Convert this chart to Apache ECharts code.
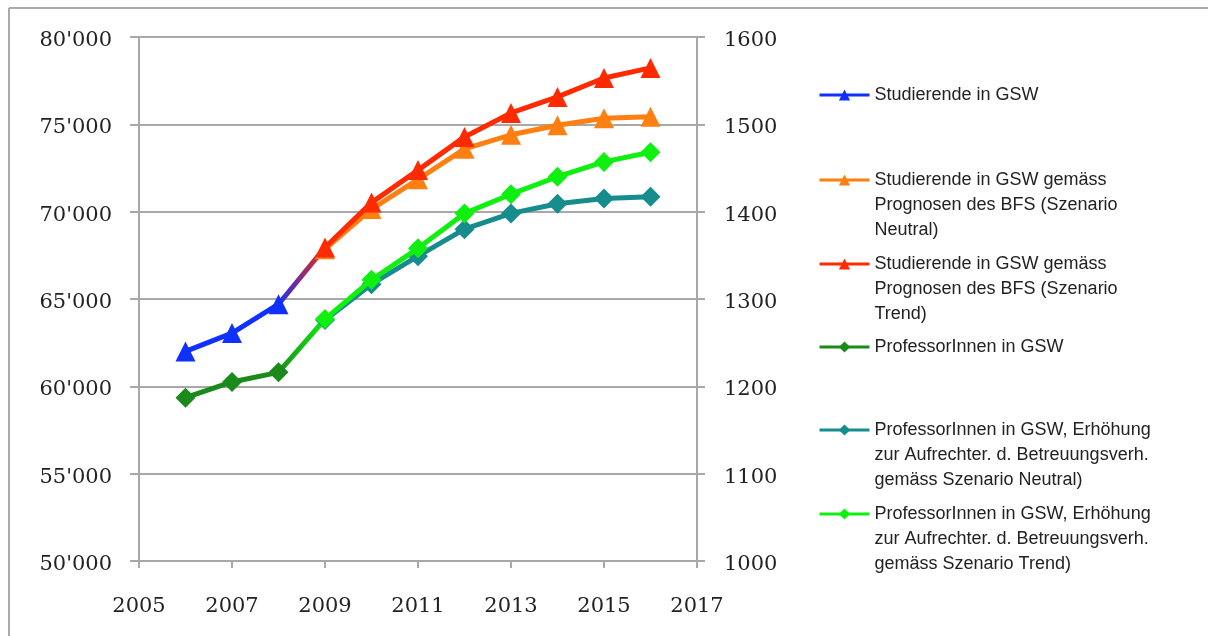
<!DOCTYPE html>
<html>
<head>
<meta charset="utf-8">
<script src="https://cdn.jsdelivr.net/npm/echarts@6/dist/echarts.min.js"></script>
<style>
  html, body { margin: 0; padding: 0; background: #fff; }
  #chart { width: 1208px; height: 636px; }
</style>
</head>
<body>
<div id="chart"></div>
<script>
// Jahre und Werte der einzelnen Reihen
const jahreStud = [2006, 2007, 2008];
const studierende = [62000, 63050, 64700];

const jahrePrognose = [2009, 2010, 2011, 2012, 2013, 2014, 2015, 2016];
const studNeutral = [67850, 70150, 71850, 73600, 74400, 74950, 75350, 75430];
const studTrend = [67950, 70520, 72380, 74280, 75650, 76570, 77650, 78230];

const jahreProf = [2006, 2007, 2008];
const professoren = [1187, 1205, 1216];
const profNeutral = [1276, 1317, 1349, 1380, 1398, 1409, 1415, 1417];
const profTrend = [1277, 1322, 1358, 1398, 1420, 1440, 1457, 1468];

const xTicks = { min: 2005, max: 2017, step: 2 };
const yLinks = { min: 50000, max: 80000, step: 5000 };
const yRechts = { min: 1000, max: 1600, step: 100 };

const namen = [
  'Studierende in GSW',
  'Studierende in GSW gemäss\nPrognosen des BFS (Szenario\nNeutral)',
  'Studierende in GSW gemäss\nPrognosen des BFS (Szenario\nTrend)',
  'ProfessorInnen in GSW',
  'ProfessorInnen in GSW, Erhöhung\nzur Aufrechter. d. Betreuungsverh.\ngemäss Szenario Neutral)',
  'ProfessorInnen in GSW, Erhöhung\nzur Aufrechter. d. Betreuungsverh.\ngemäss Szenario Trend)'
];
const farben = ['#1030ff', '#ff7f10', '#ff2a00', '#1a8a1a', '#168c8c', '#10f010'];

const paare = (xs, ys) => xs.map((x, i) => [x, ys[i]]);

const chart = echarts.init(document.getElementById('chart'), null, { renderer: 'canvas' });

const achsenGrau = '#a8a8a8';
const achsenSchrift = { fontFamily: 'DejaVu Serif', fontSize: 21, color: '#222' };
// Y-Beschriftungen etwas unterhalb der Gitterlinie
const yRich = { v: { fontFamily: 'DejaVu Serif', fontSize: 21, color: '#222', padding: [7, 0, 0, 0] } };

function linie(name, idx, daten, symbol, size, yAxisIndex) {
  return {
    name: name, type: 'line', yAxisIndex: yAxisIndex, data: daten,
    symbol: symbol, symbolSize: size,
    itemStyle: { color: farben[idx] },
    lineStyle: { color: farben[idx], width: 5 },
    z: 3 + idx, animation: false
  };
}

function verbindung(von, bis, farbeA, farbeB, yAxisIndex) {
  return {
    type: 'line', yAxisIndex: yAxisIndex, data: [von, bis], symbol: 'none', silent: true,
    lineStyle: {
      width: 5,
      color: new echarts.graphic.LinearGradient(0, 0, 1, 0, [
        { offset: 0, color: farbeA }, { offset: 1, color: farbeB }
      ])
    },
    z: 2, animation: false
  };
}

// Legende: eine Komponente pro Eintrag; vorangestellte Leerzeilen
// setzen das Symbol auf die Höhe der ersten Textzeile
const legendY = [93, 178, 262, 345, 428, 512];
const zeilenHoehe = 25;
const legenden = namen.map((n, i) => {
  const zeilen = n.split('\n').length;
  const leer = '\n'.repeat(zeilen - 1);
  const boxHoehe = (2 * zeilen - 1) * zeilenHoehe;
  return {
    data: [n], left: 818, top: legendY[i] + 2 - boxHoehe / 2, padding: 0,
    orient: 'vertical', itemWidth: 50, itemHeight: 14, itemGap: 0,
    selectedMode: false,
    formatter: name => leer + name,
    lineStyle: { width: 3 },
    textStyle: {
      fontFamily: 'Liberation Sans', fontSize: 18, color: '#222',
      lineHeight: zeilenHoehe
    }
  };
});

const option = {
  backgroundColor: '#fff',
  animation: false,
  grid: { left: 139, right: 511, top: 37, bottom: 75, containLabel: false },
  legend: legenden,
  xAxis: {
    type: 'value', min: xTicks.min, max: xTicks.max, interval: xTicks.step,
    axisLine: { show: true, lineStyle: { color: achsenGrau, width: 2 } },
    axisTick: { show: true, length: 7, lineStyle: { color: achsenGrau, width: 2 } },
    axisLabel: Object.assign({ margin: 35, formatter: v => String(v) }, achsenSchrift),
    splitLine: { show: false }
  },
  yAxis: [
    {
      type: 'value', min: yLinks.min, max: yLinks.max, interval: yLinks.step, position: 'left',
      axisLine: { show: true, lineStyle: { color: achsenGrau, width: 2 } },
      axisTick: { show: true, length: 9, lineStyle: { color: achsenGrau, width: 2 } },
      axisLabel: {
        margin: 27, rich: yRich,
        formatter: v => {
          const t = Math.floor(v / 1000);
          const r = String(v % 1000).padStart(3, '0');
          return '{v|' + t + "'" + r + '}';
        }
      },
      splitLine: { show: true, lineStyle: { color: achsenGrau, width: 2 } }
    },
    {
      type: 'value', min: yRechts.min, max: yRechts.max, interval: yRechts.step, position: 'right',
      axisLine: { show: true, lineStyle: { color: achsenGrau, width: 2 } },
      axisTick: { show: true, length: 8, lineStyle: { color: achsenGrau, width: 2 } },
      axisLabel: { margin: 27, rich: yRich, formatter: v => '{v|' + v + '}' },
      splitLine: { show: false }
    }
  ],
  graphic: [
    { type: 'line', shape: { x1: 9, y1: 8, x2: 1208, y2: 8 }, style: { stroke: '#aaa', lineWidth: 2 }, silent: true },
    { type: 'line', shape: { x1: 9, y1: 8, x2: 9, y2: 636 }, style: { stroke: '#aaa', lineWidth: 2 }, silent: true }
  ],
  series: [
    verbindung([jahreStud[2], studierende[2]], [jahrePrognose[0], studTrend[0]], farben[0], farben[2], 0),
    verbindung([jahreProf[2], professoren[2]], [jahrePrognose[0], profTrend[0]], farben[3], farben[5], 1),
    linie(namen[0], 0, paare(jahreStud, studierende), 'triangle', 20, 0),
    linie(namen[1], 1, paare(jahrePrognose, studNeutral), 'triangle', 20, 0),
    linie(namen[2], 2, paare(jahrePrognose, studTrend), 'triangle', 20, 0),
    linie(namen[3], 3, paare(jahreProf, professoren), 'diamond', 20, 1),
    linie(namen[4], 4, paare(jahrePrognose, profNeutral), 'diamond', 20, 1),
    linie(namen[5], 5, paare(jahrePrognose, profTrend), 'diamond', 20, 1)
  ]
};

chart.setOption(option);
</script>
</body>
</html>
